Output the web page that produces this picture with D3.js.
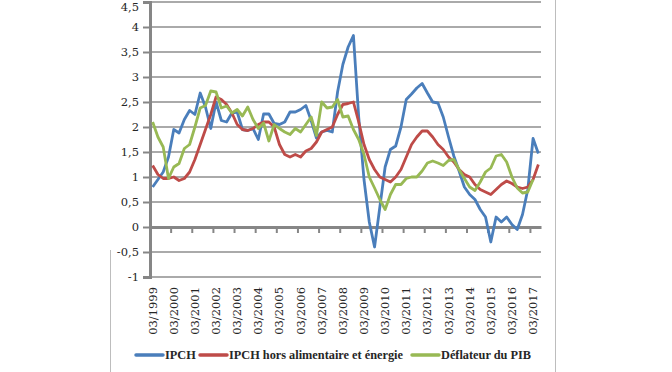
<!DOCTYPE html>
<html>
<head>
<meta charset="utf-8">
<script src="https://cdn.jsdelivr.net/npm/d3@7"></script>
<style>
  body { margin: 0; background: #fff; }
  svg text { font-family: "DejaVu Serif", serif; fill: #262626; }
</style>
</head>
<body>
<svg id="chart" width="672" height="372"></svg>
<script>
// quarterly categories, 03/1999 .. 06/2017
const years = d3.range(1999, 2018);
const months = ["03", "06", "09", "12"];
const categories = years.flatMap(y => months.map(m => m + "/" + y)).slice(0, 74);

const yTicks = [-1, -0.5, 0, 0.5, 1, 1.5, 2, 2.5, 3, 3.5, 4, 4.5];

const ipch = [
  0.8, 0.95, 1.1, 1.4,
  1.95, 1.88, 2.15, 2.33,
  2.25, 2.68, 2.4, 1.97,
  2.5, 2.13, 2.1, 2.28,
  2.3, 1.95, 1.93, 1.97,
  1.75, 2.26, 2.26, 2.07,
  2.05, 2.1, 2.3, 2.3,
  2.35, 2.43, 2.13, 1.78,
  1.9, 1.93, 1.9, 2.7,
  3.25, 3.6, 3.83, 2.2,
  0.95, 0.1, -0.4, 0.4,
  1.2, 1.55, 1.62, 2.0,
  2.55, 2.66, 2.78, 2.87,
  2.68, 2.5, 2.48, 2.2,
  1.8, 1.42, 1.12, 0.8,
  0.65, 0.55, 0.35, 0.2,
  -0.3, 0.2, 0.1, 0.2,
  0.05, -0.05, 0.25, 0.75,
  1.77, 1.47
];

const ipchCore = [
  1.23, 1.05, 0.97, 0.97,
  1.0, 0.93, 0.97, 1.1,
  1.35, 1.65, 1.95, 2.25,
  2.6, 2.55, 2.45, 2.28,
  2.05, 1.95, 1.93, 1.97,
  2.05, 2.1, 2.1, 2.0,
  1.65, 1.45, 1.4, 1.45,
  1.4, 1.52, 1.57, 1.7,
  1.9, 1.95, 2.0, 2.25,
  2.45, 2.47, 2.5, 2.1,
  1.65, 1.35, 1.15, 1.0,
  0.95, 0.9, 1.0, 1.15,
  1.4, 1.65, 1.8, 1.92,
  1.92, 1.8, 1.65, 1.55,
  1.4, 1.3, 1.15, 1.05,
  1.0, 0.85, 0.75, 0.7,
  0.65, 0.75, 0.85, 0.92,
  0.87, 0.8, 0.77, 0.8,
  0.95, 1.25
];

const deflator = [
  2.1, 1.8, 1.6, 0.97,
  1.2, 1.27, 1.57, 1.65,
  2.0, 2.38, 2.43, 2.72,
  2.7, 2.38, 2.42, 2.28,
  2.35, 2.22, 2.4, 2.15,
  1.97, 2.08, 1.72, 2.05,
  1.97, 1.9, 1.85, 1.97,
  1.9, 2.05, 2.2, 1.83,
  2.5, 2.38, 2.4, 2.55,
  2.2, 2.22, 1.95, 1.75,
  1.45, 1.0, 0.78, 0.55,
  0.35, 0.65, 0.85, 0.85,
  0.97, 1.0, 1.0, 1.12,
  1.28, 1.32, 1.28, 1.23,
  1.33, 1.35, 1.15, 0.97,
  0.8, 0.73, 0.9, 1.1,
  1.18, 1.42, 1.45, 1.3,
  1.0, 0.78, 0.68, 0.7,
  0.95
];

const seriesNames = ["IPCH", "IPCH hors alimentaire et énergie", "Déflateur du PIB"];
const seriesColors = ["#4a7ebb", "#be4b48", "#98b954"];
const seriesValues = [ipch, ipchCore, deflator];

const svg = d3.select("#chart");
const plotLeft = 150, plotRight = 541, plotTop = 2, plotBottom = 277;

const x = d3.scaleBand().domain(categories).range([plotLeft, plotRight]);
const y = d3.scaleLinear().domain([-1, 4.5]).range([plotBottom, plotTop]);

// outer frame pieces
svg.append("line")
  .attr("x1", 555.5).attr("x2", 555.5).attr("y1", 0).attr("y2", 372)
  .attr("stroke", "#bdbdbd").attr("stroke-width", 1);
svg.append("line")
  .attr("x1", 110.5).attr("x2", 110.5).attr("y1", 250).attr("y2", 372)
  .attr("stroke", "#bdbdbd").attr("stroke-width", 1);

// gridlines
svg.append("g")
  .selectAll("line")
  .data(yTicks.filter(d => d !== 0))
  .join("line")
  .attr("x1", plotLeft).attr("x2", plotRight)
  .attr("y1", d => y(d)).attr("y2", d => y(d))
  .attr("stroke", "#8e8e8e").attr("stroke-width", 1.5);

// y axis
const yAxis = svg.append("g")
  .attr("transform", `translate(${plotLeft},0)`)
  .call(d3.axisLeft(y).tickValues(yTicks).tickSize(7).tickPadding(4)
    .tickFormat(d => String(d).replace(".", ",")));
yAxis.select(".domain").attr("stroke", "#868686").attr("stroke-width", 3);
yAxis.selectAll(".tick line").attr("stroke", "#868686").attr("stroke-width", 2);
yAxis.selectAll("text").attr("font-size", 11.5).attr("fill", "#262626")
  .style("font-family", "DejaVu Serif");
// top label sits against the page edge
yAxis.selectAll(".tick text").filter(d => d === 4.5).attr("dy", "0.78em");

// x axis at zero
const labelled = categories.filter((d, i) => i % 4 === 0);
const xAxis = svg.append("g")
  .attr("transform", `translate(0,${y(0)})`)
  .call(d3.axisBottom(x).tickValues(labelled).tickSize(0).tickFormat(""));
xAxis.select(".domain").attr("stroke", "#868686").attr("stroke-width", 3);

svg.append("g")
  .selectAll("line")
  .data(labelled.slice(1))
  .join("line")
  .attr("x1", d => x(d)).attr("x2", d => x(d))
  .attr("y1", y(0)).attr("y2", y(0) + 6)
  .attr("stroke", "#868686").attr("stroke-width", 2);

// rotated category labels under the plot
svg.append("g")
  .selectAll("text")
  .data(labelled)
  .join("text")
  .attr("transform", d => `translate(${x(d) + x.bandwidth() / 2 + 4},287) rotate(-90)`)
  .attr("text-anchor", "end")
  .attr("font-size", 11.5)
  .text(d => d);

// series lines
const line = d3.line()
  .x((d, i) => x(categories[i]) + x.bandwidth() / 2)
  .y(d => y(d));

svg.append("g")
  .selectAll("path")
  .data(seriesValues)
  .join("path")
  .attr("d", d => line(d))
  .attr("fill", "none")
  .attr("stroke", (d, i) => seriesColors[i])
  .attr("stroke-width", 2.8)
  .attr("stroke-linejoin", "round");

// legend
const legendX = [136, 200, 412];
const legend = svg.append("g")
  .selectAll("g")
  .data(seriesNames)
  .join("g")
  .attr("transform", (d, i) => `translate(${legendX[i]},355)`);
legend.append("line")
  .attr("x1", 0).attr("x2", 27)
  .attr("stroke", (d, i) => seriesColors[i])
  .attr("stroke-width", 3.5)
  .attr("stroke-linecap", "round");
legend.append("text")
  .attr("x", 29).attr("dy", "0.35em")
  .attr("font-size", 12.3)
  .attr("font-weight", "bold")
  .style("font-family", "Liberation Serif")
  .text(d => d);
</script>
</body>
</html>
